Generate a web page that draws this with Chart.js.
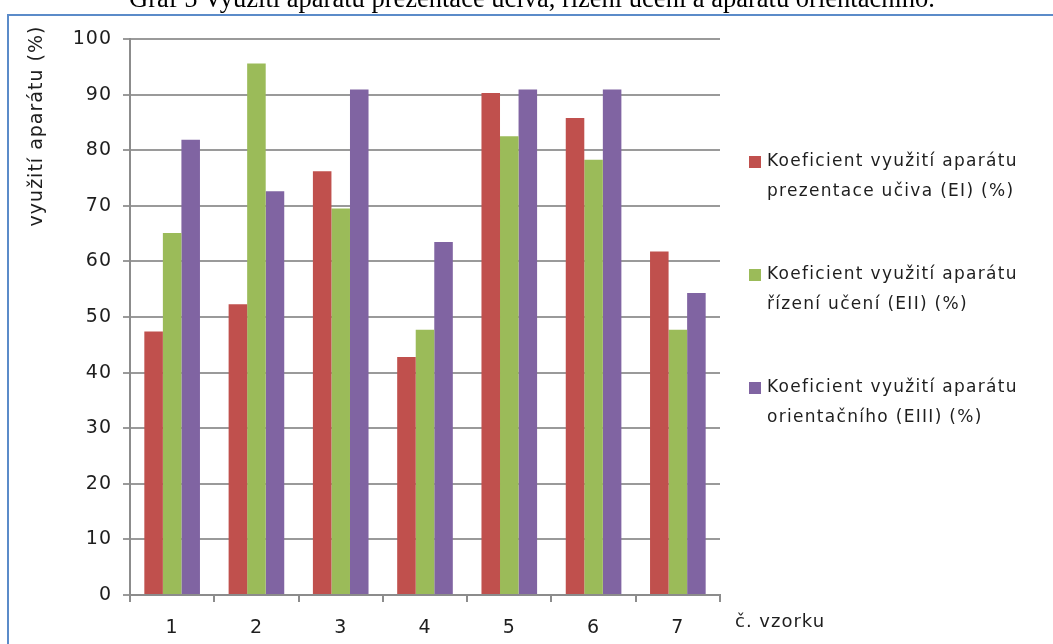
<!DOCTYPE html>
<html>
<head>
<meta charset="utf-8">
<script src="https://cdn.jsdelivr.net/npm/chart.js@4.4.1/dist/chart.umd.min.js"></script>
<style>
  html, body { margin: 0; padding: 0; background: #fff; overflow: hidden; }
  #wrap { position: relative; width: 1053px; height: 644px; overflow: hidden; }
  #title { position: absolute; left: 0; width: 1064px; top: -17px; text-align: center; line-height: 30px;
           font-family: "Liberation Serif", "Times New Roman", serif; font-size: 26.5px; color: #000; white-space: nowrap; z-index: 2; }
  canvas { position: absolute; left: 0; top: 0; }
</style>
</head>
<body>
<div id="wrap">
  <canvas id="c" width="1053" height="644"></canvas>
  <div id="title">Graf 5 Využití aparátu prezentace učiva, řízení učení a aparátu orientačního.</div>
</div>
<script>
const categories = ['1', '2', '3', '4', '5', '6', '7'];
const seriesEI   = [47.4, 52.3, 76.2, 42.8, 90.3, 85.8, 61.8];
const seriesEII  = [65.1, 95.6, 69.5, 47.7, 82.5, 78.3, 47.7];
const seriesEIII = [81.9, 72.6, 90.9, 63.5, 90.9, 90.9, 54.3];
const legendLines = [
  ['Koeficient využití aparátu', 'prezentace učiva (EI) (%)'],
  ['Koeficient využití aparátu', 'řízení učení (EII) (%)'],
  ['Koeficient využití aparátu', 'orientačního (EIII) (%)']
];
const yTitle = 'využití aparátu (%)';
const xTitle = 'č. vzorku';
const colors = ['#c0504d', '#9bbb59', '#8064a2'];

const textColor = '#1e1e1e';
const uiFont = '"DejaVu Sans", sans-serif';

const overlay = {
  id: 'overlay',
  beforeDraw(chart) {
    const ctx = chart.ctx;
    ctx.save();
    ctx.strokeStyle = '#5b8bc9';
    ctx.lineWidth = 2;
    ctx.beginPath();
    ctx.moveTo(8, 700);
    ctx.lineTo(8, 15);
    ctx.lineTo(1100, 15);
    ctx.stroke();
    ctx.restore();
    ctx.letterSpacing = '1px';
  },
  afterDraw(chart) {
    const ctx = chart.ctx;
    ctx.save();
    ctx.letterSpacing = '1px';
    ctx.fillStyle = textColor;
    // y axis title
    ctx.font = '19px ' + uiFont;
    ctx.translate(37, 126);
    ctx.rotate(-Math.PI / 2);
    ctx.textAlign = 'center';
    ctx.textBaseline = 'middle';
    ctx.fillText(yTitle, 0, 0);
    ctx.restore();

    ctx.save();
    ctx.letterSpacing = '1px';
    ctx.fillStyle = textColor;
    ctx.font = '18px ' + uiFont;
    ctx.textAlign = 'left';
    ctx.textBaseline = 'middle';
    ctx.fillText(xTitle, 735, 622);

    // legend
    ctx.letterSpacing = '1.3px';
    ctx.font = '17px ' + uiFont;
    chart.data.datasets.forEach((ds, i) => {
      const y0 = 162 + i * 113;
      ctx.fillStyle = ds.backgroundColor;
      ctx.fillRect(749, y0 - 6, 12, 12);
      ctx.fillStyle = textColor;
      legendLines[i].forEach((line, j) => {
        ctx.fillText(line, 767, y0 + j * 30);
      });
    });
    ctx.restore();
  }
};

new Chart(document.getElementById('c'), {
  type: 'bar',
  data: {
    labels: categories,
    datasets: [
      { label: legendLines[0].join(' '), data: seriesEI, backgroundColor: colors[0] },
      { label: legendLines[1].join(' '), data: seriesEII, backgroundColor: colors[1] },
      { label: legendLines[2].join(' '), data: seriesEIII, backgroundColor: colors[2] }
    ]
  },
  options: {
    responsive: false,
    animation: false,
    events: [],
    categoryPercentage: 0.66,
    barPercentage: 1.0,
    layout: { padding: { left: 0, right: 333, top: 39, bottom: 0 } },
    plugins: {
      legend: { display: false },
      tooltip: { enabled: false },
      title: { display: false }
    },
    scales: {
      x: {
        afterFit(scale) { scale.height = 49; },
        grid: { display: true, drawOnChartArea: false, offset: true, tickLength: 7, color: '#8c8c8c', lineWidth: 2 },
        border: { display: true, color: '#8c8c8c', width: 2 },
        ticks: { color: textColor, font: { family: uiFont, size: 19 }, padding: 15 }
      },
      y: {
        min: 0, max: 100,
        afterFit(scale) { scale.width = 130; },
        grid: { color: '#9a9a9a', lineWidth: 2, tickLength: 7 },
        border: { display: true, color: '#8c8c8c', width: 2 },
        ticks: { stepSize: 10, color: textColor, font: { family: uiFont, size: 19 }, padding: 11 }
      }
    }
  },
  plugins: [overlay]
});
</script>
</body>
</html>
